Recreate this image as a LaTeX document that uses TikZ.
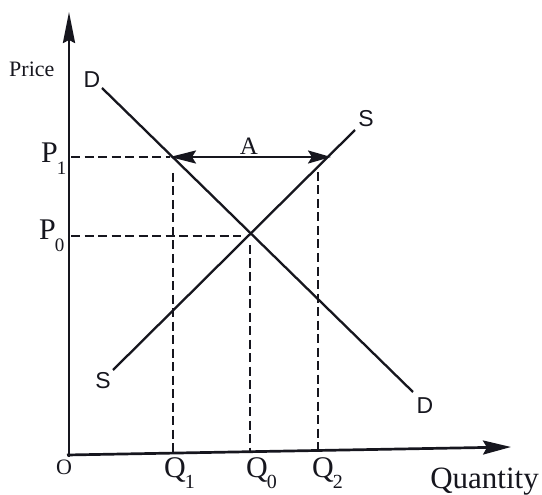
\documentclass[tikz,border=0pt]{standalone}
\usepackage{fontspec}
\setmainfont{Liberation Serif}
\newfontfamily\curvefont{Liberation Sans}
\usetikzlibrary{arrows.meta,positioning}
\definecolor{ink}{HTML}{16161E}

% subscripted axis labels, tucked in as in a printed figure
\newcommand{\psub}[2]{#1\kern-1pt\raisebox{-12pt}{\fontsize{19}{19}\selectfont #2}}
\newcommand{\qsub}[2]{#1\kern-1pt\raisebox{-11pt}{\fontsize{20}{20}\selectfont #2}}

\tikzset{
  axis/.style={draw=ink, line width=2.7pt},
  curve/.style={draw=ink, line width=2.3pt},
  guide/.style={draw=ink, line width=2.4pt, dash pattern=on 9pt off 4.5pt},
  curvelab/.style={font=\curvefont\fontsize{23}{23}\selectfont, text=ink, inner sep=0pt},
  axislab/.style={font=\fontsize{30}{30}\selectfont, text=ink, inner sep=0pt}
}

\begin{document}
\begin{tikzpicture}[x=1pt, y=-1pt]
  \useasboundingbox (0,0) rectangle (542,495);

  % axes
  \coordinate (O) at (69,457);
  \coordinate (ytop) at (69,12);
  \coordinate (xstart) at (67,455);
  \coordinate (xend) at (511,447);
  \draw[axis, -{Stealth[length=31pt, width=12pt, inset=3pt]}] (O) -- (ytop);
  \draw[axis, -{Stealth[length=28pt, width=14pt, inset=4pt]}] (xstart) -- (xend);

  % demand and supply
  \coordinate (Dtop) at (102,88);
  \coordinate (Dbot) at (413,392);
  \coordinate (Sbot) at (113,370);
  \coordinate (Stop) at (355,130);
  \draw[curve] (Dtop) -- (Dbot);
  \draw[curve] (Sbot) -- (Stop);

  % price above equilibrium
  \coordinate (P1) at (71,157);
  \coordinate (P1d) at (170,157);
  \coordinate (P1s) at (331,157);
  \draw[guide] (P1) -- (P1d);
  \draw[line width=2.3pt, draw=ink,
        {Stealth[length=26pt, width=13pt, inset=4pt]}-{Stealth[length=23pt, width=13pt, inset=4pt]}]
        (P1d) -- (P1s);

  % equilibrium
  \coordinate (P0) at (71,236);
  \coordinate (E) at (241,236);
  \draw[guide] (P0) -- (E);

  % quantities
  \coordinate (Q1top) at (173,173);
  \coordinate (Q1) at (173,453);
  \coordinate (Q0top) at (250,245);
  \coordinate (Q0) at (250,453);
  \coordinate (Q2top) at (318,172);
  \coordinate (Q2) at (318,452);
  \draw[guide] (Q1top) -- (Q1);
  \draw[guide] (Q0top) -- (Q0);
  \draw[guide] (Q2top) -- (Q2);

  % labels
  \node[font=\fontsize{22}{22}\selectfont, text=ink, inner sep=0pt, anchor=base west] (price) at (9,77) {Price};
  \node[curvelab] (dlabtop) at (92,80) {D};
  \node[curvelab] (dlabbot) at (425,406) {D};
  \node[curvelab] (slabtop) at (366,119) {S};
  \node[curvelab] (slabbot) at (103,381) {S};
  \node[axislab, anchor=base west] (p1lab) at (41,163) {\psub{P}{1}};
  \node[axislab, anchor=base west] (p0lab) at (39,240) {\psub{P}{0}};
  \node[font=\fontsize{25}{25}\selectfont, text=ink, inner sep=0pt] (alab) at (249,146) {A};
  \node[font=\fontsize{22}{22}\selectfont, text=ink, inner sep=0pt] (olab) at (64,467) {O};
  \node[axislab, anchor=base west] (q1lab) at (164,477) {\qsub{Q}{1}};
  \node[axislab, anchor=base west] (q0lab) at (246,477) {\qsub{Q}{0}};
  \node[axislab, anchor=base west] (q2lab) at (312,477) {\qsub{Q}{2}};
  \node[axislab, anchor=base east, font=\fontsize{31}{31}\selectfont] (qty) at (539,488) {Quantity};
\end{tikzpicture}
\end{document}
